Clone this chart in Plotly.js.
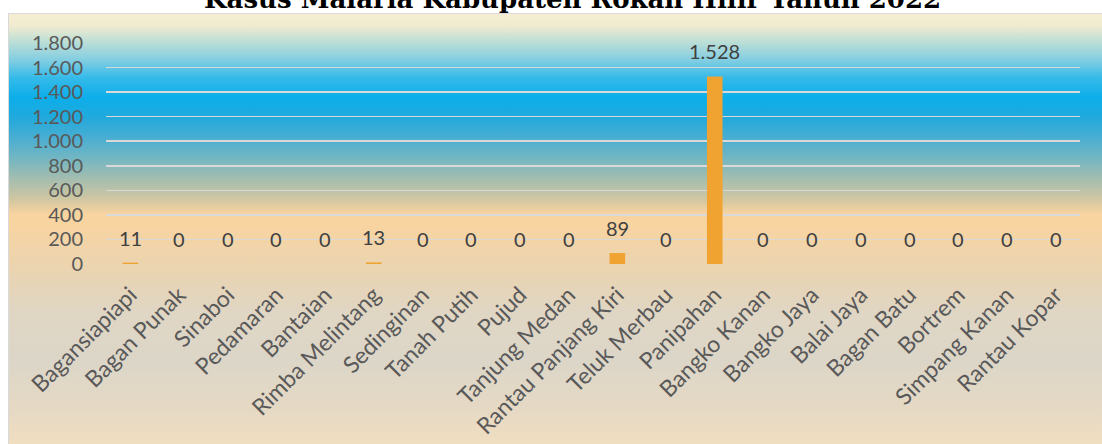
<!DOCTYPE html>
<html><head><meta charset="utf-8">
<script src="https://cdn.plot.ly/plotly-3.0.1.min.js"></script>
<style>
html,body{margin:0;padding:0;width:1102px;height:444px;overflow:hidden;background:#fff;}
#bg{position:absolute;left:8px;top:13px;width:1094px;height:431px;border-left:1px solid #d9d9d9;border-top:1px solid #d9d9d9;
background:linear-gradient(to bottom,
 #f6eed2 0px, #f0ebd0 12px, #bfdfd6 27px, #7fcde2 47px, #34bae9 64px, #0caeea 84px, #22a9dc 104px,
 #4aaed2 124px, #72b6c2 144px, #a2bdb0 164px, #cdc6a2 184px, #f8d4a0 200px, #f8d4a0 210px, #f2d4a8 230px,
 #e8d4b4 264px, #e0d6c4 297px, #dcd6c8 347px, #e6d9c4 397px, #f0dec0 431px);}
#chart{position:absolute;left:0;top:0;width:1102px;height:444px;}
</style></head><body>
<div id="bg"></div><div id="chart"></div>
<script>
const categories = ['Bagansiapiapi','Bagan Punak','Sinaboi','Pedamaran','Bantaian','Rimba Melintang','Sedinginan','Tanah Putih','Pujud','Tanjung Medan','Rantau Panjang Kiri','Teluk Merbau','Panipahan','Bangko Kanan','Bangko Jaya','Balai Jaya','Bagan Batu','Bortrem','Simpang Kanan','Rantau Kopar'];
const cases = [11,0,0,0,0,13,0,0,0,0,89,0,1528,0,0,0,0,0,0,0];
const yTicks = [0,200,400,600,800,1000,1200,1400,1600,1800];
const chartTitle = 'Kasus Malaria Kabupaten Rokan Hilir Tahun 2022';

function fmt(v){ return String(v).replace(/\B(?=(\d{3})+(?!\d))/g,'.'); }

const trace = {
  type:'bar', x:categories, y:cases,
  marker:{color:'#f0a330'}, hoverinfo:'none'
};

const labels = categories.map((c,i)=>({
  x:c, y:cases[i], xref:'x', yref:'y', text:fmt(cases[i]), showarrow:false,
  yanchor:'middle', yshift:25,
  font:{family:'Lato, sans-serif', size:20, color:'#404040'}
}));

const titleSize = 26;
labels.push({
  text:'<b>'+chartTitle+'</b>', xref:'paper', yref:'paper', x:(572-106)/974, y:1,
  xanchor:'center', yanchor:'bottom', yshift:27, showarrow:false,
  font:{family:'DejaVu Serif, serif', size:titleSize, color:'#000'}
});

const layout = {
  width:1102, height:444, autosize:false,
  paper_bgcolor:'rgba(0,0,0,0)', plot_bgcolor:'rgba(0,0,0,0)',
  margin:{l:106, r:22, t:43, b:180, pad:0},
  bargap:0.68,
  showlegend:false,
  xaxis:{type:'category', tickangle:-45, showgrid:false, showline:false, zeroline:false, ticks:'',
    tickfont:{family:'Lato, sans-serif', size:23, color:'#595959'}, ticklabelstandoff:12},
  yaxis:{range:[0,1800], tickvals:yTicks, ticktext:yTicks.map(fmt), showgrid:true,
    gridcolor:'#d9d9d9', gridwidth:1.5, zeroline:false, showline:false, ticks:'',
    tickfont:{family:'Lato, sans-serif', size:20, color:'#595959'}, ticklabelstandoff:22},
  annotations:labels
};

Plotly.newPlot('chart',[trace],layout,{staticPlot:true, displayModeBar:false});
</script>
</body></html>
